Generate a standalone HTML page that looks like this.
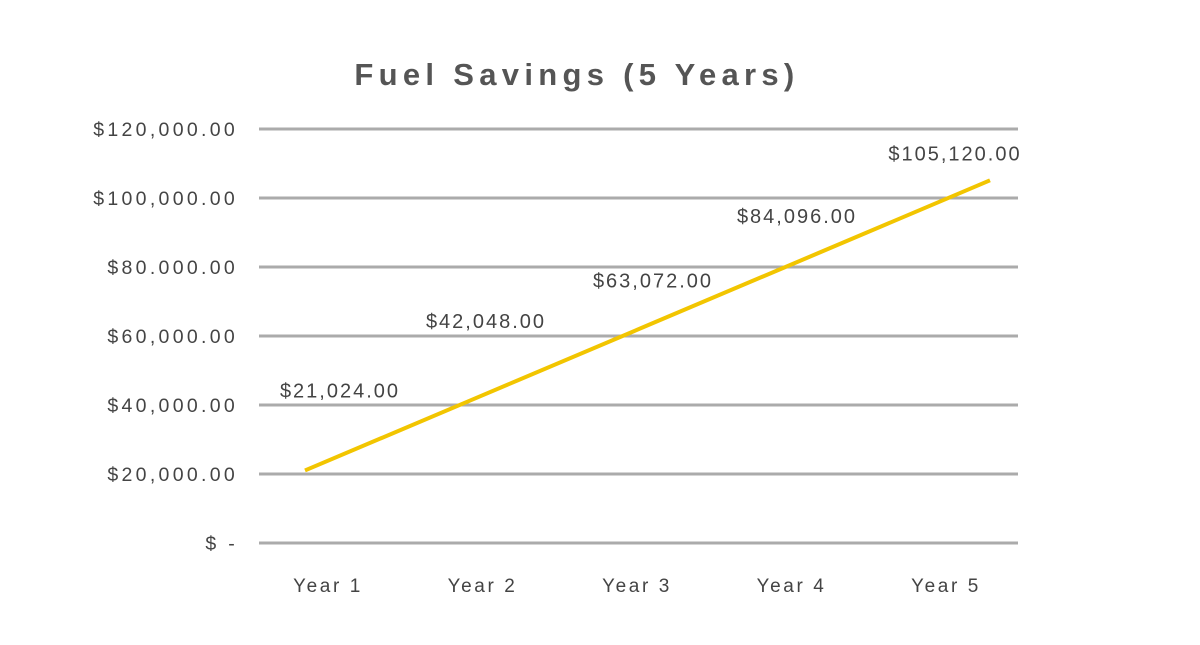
<!DOCTYPE html>
<html><head><meta charset="utf-8"><style>
html,body{margin:0;padding:0;background:#fff;}
svg{display:block;font-family:"Liberation Sans",sans-serif;}
</style></head><body>
<svg id="chart" width="1200" height="645" viewBox="0 0 1200 645">
<text x="577" y="85" text-anchor="middle" font-size="31" font-weight="bold" fill="#555" letter-spacing="5.3">Fuel Savings (5 Years)</text>
<g id="grid"></g><g id="ylabels"></g><g id="xlabels"></g><g id="series"></g><g id="values"></g>
</svg>
<script>
const categories = ["Year 1","Year 2","Year 3","Year 4","Year 5"];
const savings = [21024, 42048, 63072, 84096, 105120];
const valueLabels = ["$21,024.00","$42,048.00","$63,072.00","$84,096.00","$105,120.00"];
const yTicks = [0, 20000, 40000, 60000, 80000, 100000, 120000];
const yTickLabels = ["$ -","$20,000.00","$40,000.00","$60,000.00","$80.000.00","$100,000.00","$120,000.00"];
const NS = "http://www.w3.org/2000/svg";
function y(v){ return 543 - v * 69 / 20000; }
function xCat(i){ return 328 + i * 154.5; }
function xLine(i){ return 305 + i * 171.25; }
const labelOffsets = [80, 77, 45, 37, 27];
const labelX = [340, 486, 653, 797, 955];
function mk(tag, attrs, parent){ const e=document.createElementNS(NS,tag); for(const k in attrs) e.setAttribute(k,attrs[k]); parent.appendChild(e); return e; }
const grid=document.getElementById('grid'), yl=document.getElementById('ylabels'), xl=document.getElementById('xlabels'), se=document.getElementById('series'), va=document.getElementById('values');
yTicks.forEach((t,i)=>{
  const l=mk('line',{x1:259,x2:1018,y1:y(t),y2:y(t),stroke:'#ababab','stroke-width':3},grid);
  
  
  const tx=mk('text',{x:238,y:y(t)+7,'text-anchor':'end','font-size':19.5,fill:'#444','letter-spacing':3.3},yl);
  tx.textContent=yTickLabels[i];
  
  
});
categories.forEach((c,i)=>{
  const tx=mk('text',{x:xCat(i),y:592,'text-anchor':'middle','font-size':19,fill:'#444','letter-spacing':2.6},xl);
  tx.textContent=c;
  
  
});
const pts=savings.map((v,i)=>xLine(i)+','+y(v)).join(' ');
const pl=mk('polyline',{points:pts,fill:'none',stroke:'#f2c500','stroke-width':4},se);


savings.forEach((v,i)=>{
  const tx=mk('text',{x:labelX[i],y:y(v)-labelOffsets[i]+7,'text-anchor':'middle','font-size':20,fill:'#444','letter-spacing':2},va);
  tx.textContent=valueLabels[i];
  
  
});
</script>
</body></html>
